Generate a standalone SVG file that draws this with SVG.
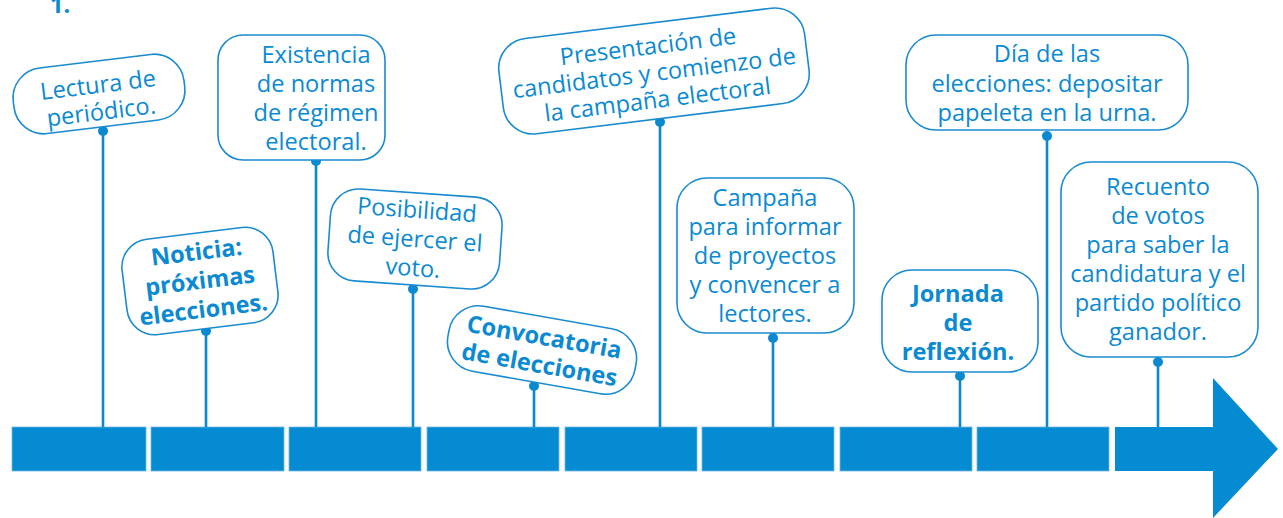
<svg xmlns="http://www.w3.org/2000/svg" width="1283" height="518" viewBox="0 0 1283 518">
<style>
.box{fill:#fff;stroke:#1a8bd1;stroke-width:1.6}
.t{font-family:"Open Sans","Liberation Sans",sans-serif;font-size:23.6px;fill:#0b8ad2;text-anchor:middle}
.b{font-weight:bold}
.ln{stroke:#0a89d0;stroke-width:2.6;fill:none}
.dot{fill:#0a89d0}
.seg{fill:#048bd2;stroke:#6fb9e6;stroke-width:0.8}
</style>
<rect width="1283" height="518" fill="#fff"/>
<text class="t b" x="50" y="13" style="text-anchor:start">1.</text>

<g id="timeline">
<rect class="seg" x="12" y="427" width="134" height="44"/>
<rect class="seg" x="151" y="427" width="133" height="44"/>
<rect class="seg" x="289" y="427" width="132" height="44"/>
<rect class="seg" x="427" y="427" width="132" height="44"/>
<rect class="seg" x="565" y="427" width="132" height="44"/>
<rect class="seg" x="702" y="427" width="132" height="44"/>
<rect class="seg" x="840" y="427" width="132" height="44"/>
<rect class="seg" x="977" y="427" width="132" height="44"/>
<polygon fill="#048bd2" points="1115,427 1213,427 1213,378 1278,449 1213,518 1213,471 1115,471"/>
</g>

<g id="connectors">
<line class="ln" x1="103" y1="131" x2="103" y2="427"/><circle class="dot" cx="103" cy="131" r="5"/>
<line class="ln" x1="206" y1="331" x2="206" y2="427"/><circle class="dot" cx="206" cy="331" r="5"/>
<line class="ln" x1="316" y1="161" x2="316" y2="427"/><circle class="dot" cx="316" cy="161" r="5"/>
<line class="ln" x1="413" y1="289" x2="413" y2="427"/><circle class="dot" cx="413" cy="289" r="5"/>
<line class="ln" x1="534" y1="386" x2="534" y2="427"/><circle class="dot" cx="534" cy="386" r="5"/>
<line class="ln" x1="660" y1="122" x2="660" y2="427"/><circle class="dot" cx="660" cy="122" r="5"/>
<line class="ln" x1="773" y1="338" x2="773" y2="427"/><circle class="dot" cx="773" cy="338" r="5"/>
<line class="ln" x1="960" y1="376" x2="960" y2="427"/><circle class="dot" cx="960" cy="376" r="5"/>
<line class="ln" x1="1047" y1="136" x2="1047" y2="427"/><circle class="dot" cx="1047" cy="136" r="5"/>
<line class="ln" x1="1158" y1="362" x2="1158" y2="427"/><circle class="dot" cx="1158" cy="362" r="5"/>
</g>

<g id="n1" transform="translate(99,94) rotate(-7)">
<rect class="box" x="-86" y="-33" width="172" height="66" rx="30"/>
<text class="t" x="0" y="-1">Lectura de</text>
<text class="t" x="0" y="26">periódico.</text>
</g>

<g id="n2">
<rect class="box" x="218" y="35" width="167" height="125" rx="25"/>
<text class="t" x="316" y="63">Existencia</text>
<text class="t" x="316" y="92">de normas</text>
<text class="t" x="316" y="121">de régimen</text>
<text class="t" x="316" y="150">electoral.</text>
</g>

<g id="n3" transform="translate(200,281) rotate(-7)">
<rect class="box" x="-76" y="-48" width="152" height="96" rx="28"/>
<text class="t b" x="0" y="-21">Noticia:</text>
<text class="t b" x="0" y="8">próximas</text>
<text class="t b" x="0" y="37">elecciones.</text>
</g>

<g id="n4" transform="translate(415,239) rotate(4)">
<rect class="box" x="-86" y="-46" width="172" height="92" rx="28"/>
<text class="t" x="0" y="-21">Posibilidad</text>
<text class="t" x="0" y="8">de ejercer el</text>
<text class="t" x="0" y="37">voto.</text>
</g>

<g id="n5" transform="translate(654,71) rotate(-7)">
<rect class="box" x="-154" y="-48" width="308" height="96" rx="30"/>
<text class="t" x="-3" y="-17">Presentación de</text>
<text class="t" x="0" y="10">candidatos y comienzo de</text>
<text class="t" x="0" y="37">la campaña electoral</text>
</g>

<g id="n6" transform="translate(542,350) rotate(10)">
<rect class="box" x="-95" y="-33" width="190" height="66" rx="30"/>
<text class="t b" x="0" y="-5">Convocatoria</text>
<text class="t b" x="0" y="23">de elecciones</text>
</g>

<g id="n7">
<rect class="box" x="677" y="178" width="177" height="155" rx="30"/>
<text class="t" x="765" y="206">Campaña</text>
<text class="t" x="765" y="235">para informar</text>
<text class="t" x="765" y="264">de proyectos</text>
<text class="t" x="765" y="293">y convencer a</text>
<text class="t" x="765" y="322">lectores.</text>
</g>

<g id="n8">
<rect class="box" x="882" y="270" width="156" height="102" rx="30"/>
<text class="t b" x="958" y="302">Jornada</text>
<text class="t b" x="958" y="331">de</text>
<text class="t b" x="958" y="360">reflexión.</text>
</g>

<g id="n9">
<rect class="box" x="906" y="35" width="282" height="95" rx="30"/>
<text class="t" x="1047" y="62">Día de las</text>
<text class="t" x="1047" y="92">elecciones: depositar</text>
<text class="t" x="1047" y="121">papeleta en la urna.</text>
</g>

<g id="n10">
<rect class="box" x="1061" y="162" width="197" height="195" rx="30"/>
<text class="t" x="1158" y="195">Recuento</text>
<text class="t" x="1158" y="224">de votos</text>
<text class="t" x="1158" y="253">para saber la</text>
<text class="t" x="1158" y="282">candidatura y el</text>
<text class="t" x="1158" y="311">partido político</text>
<text class="t" x="1158" y="340">ganador.</text>
</g>
</svg>
